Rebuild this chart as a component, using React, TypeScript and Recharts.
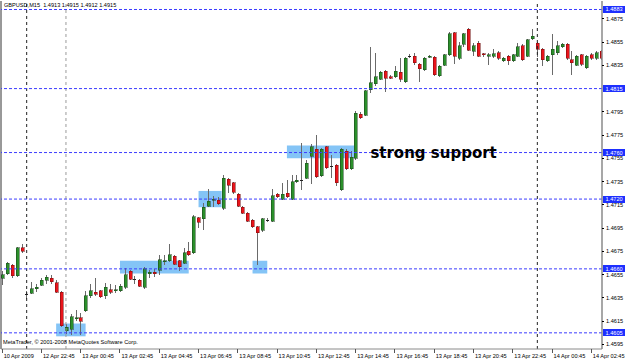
import { ComposedChart, Bar, XAxis, YAxis, ReferenceLine, ReferenceArea, ReferenceDot } from 'recharts';

// GBPUSD M15 candles (oldest first)
const opens = [
  1.4652, 1.4656, 1.4663, 1.4654, 1.4678, 1.4638, 1.4639, 1.4643, 1.4646, 1.4650,
  1.4652, 1.4648, 1.4640, 1.4607, 1.4608, 1.4617, 1.4618, 1.4624, 1.4637, 1.4640,
  1.4641, 1.4637, 1.4642, 1.4641, 1.4641, 1.4644, 1.4658, 1.4651, 1.4650, 1.4644,
  1.4656, 1.4657, 1.4659, 1.4666, 1.4667, 1.4671, 1.4667, 1.4665, 1.4675, 1.4674,
  1.4704, 1.4703, 1.4714, 1.4719, 1.4719, 1.4712, 1.4737, 1.4734, 1.4724, 1.4713,
  1.4708, 1.4702, 1.4696, 1.4693, 1.4702, 1.4701, 1.4724, 1.4720, 1.4725, 1.4720,
  1.4735, 1.4736, 1.4738, 1.4757, 1.4763, 1.4740, 1.4765, 1.4748, 1.4749, 1.4728,
  1.4761, 1.4746, 1.4755, 1.4793, 1.4792, 1.4814, 1.4819, 1.4823, 1.4830, 1.4825,
  1.4825, 1.4829, 1.4821, 1.4843, 1.4843, 1.4836, 1.4831, 1.4842, 1.4842, 1.4826,
  1.4835, 1.4844, 1.4863, 1.4841, 1.4853, 1.4866, 1.4847, 1.4854, 1.4845, 1.4843,
  1.4843, 1.4846, 1.4839, 1.4843, 1.4839, 1.4843, 1.4852, 1.4843, 1.4858, 1.4854,
  1.4849, 1.4839, 1.4844, 1.4846, 1.4851, 1.4853, 1.4840, 1.4835, 1.4844, 1.4833,
  1.4844, 1.4841, 1.4847,
];
const highs = [
  1.4658, 1.4666, 1.4664, 1.4679, 1.4681, 1.4641, 1.4649, 1.4647, 1.4652, 1.4655,
  1.4655, 1.4650, 1.4641, 1.4613, 1.4621, 1.4625, 1.4622, 1.4641, 1.4647, 1.4652,
  1.4642, 1.4648, 1.4647, 1.4646, 1.4647, 1.4661, 1.4659, 1.4654, 1.4651, 1.4662,
  1.4659, 1.4660, 1.4672, 1.4672, 1.4681, 1.4672, 1.4668, 1.4678, 1.4683, 1.4706,
  1.4705, 1.4717, 1.4729, 1.4723, 1.4722, 1.4741, 1.4738, 1.4735, 1.4725, 1.4714,
  1.4709, 1.4703, 1.4697, 1.4704, 1.4704, 1.4729, 1.4725, 1.4734, 1.4736, 1.4741,
  1.4741, 1.4768, 1.4754, 1.4767, 1.4775, 1.4764, 1.4766, 1.4758, 1.4750, 1.4764,
  1.4763, 1.4761, 1.4796, 1.4795, 1.4814, 1.4851, 1.4846, 1.4830, 1.4831, 1.4827,
  1.4834, 1.4841, 1.4842, 1.4845, 1.4846, 1.4837, 1.4842, 1.4844, 1.4843, 1.4835,
  1.4845, 1.4864, 1.4864, 1.4855, 1.4863, 1.4867, 1.4854, 1.4856, 1.4846, 1.4846,
  1.4849, 1.4847, 1.4842, 1.4844, 1.4845, 1.4854, 1.4853, 1.4858, 1.4866, 1.4855,
  1.4850, 1.4844, 1.4862, 1.4856, 1.4854, 1.4854, 1.4847, 1.4844, 1.4845, 1.4844,
  1.4846, 1.4847, 1.4848,
];
const lows = [
  1.4646, 1.4655, 1.4652, 1.4653, 1.4674, 1.4634, 1.4638, 1.4640, 1.4645, 1.4647,
  1.4647, 1.4639, 1.4610, 1.4604, 1.4603, 1.4615, 1.4603, 1.4623, 1.4635, 1.4637,
  1.4635, 1.4634, 1.4638, 1.4639, 1.4640, 1.4643, 1.4650, 1.4647, 1.4644, 1.4643,
  1.4652, 1.4653, 1.4655, 1.4663, 1.4666, 1.4663, 1.4658, 1.4664, 1.4671, 1.4673,
  1.4695, 1.4693, 1.4713, 1.4713, 1.4715, 1.4711, 1.4725, 1.4724, 1.4713, 1.4707,
  1.4700, 1.4695, 1.4663, 1.4692, 1.4700, 1.4700, 1.4721, 1.4719, 1.4721, 1.4719,
  1.4734, 1.4728, 1.4737, 1.4733, 1.4738, 1.4739, 1.4746, 1.4738, 1.4731, 1.4727,
  1.4745, 1.4745, 1.4754, 1.4789, 1.4791, 1.4811, 1.4817, 1.4822, 1.4812, 1.4823,
  1.4824, 1.4821, 1.4820, 1.4841, 1.4835, 1.4821, 1.4830, 1.4841, 1.4826, 1.4825,
  1.4834, 1.4843, 1.4836, 1.4840, 1.4851, 1.4847, 1.4843, 1.4842, 1.4842, 1.4835,
  1.4841, 1.4840, 1.4838, 1.4835, 1.4838, 1.4842, 1.4839, 1.4842, 1.4857, 1.4842,
  1.4834, 1.4838, 1.4827, 1.4844, 1.4850, 1.4840, 1.4827, 1.4834, 1.4834, 1.4832,
  1.4840, 1.4840, 1.4840,
];
const closes = [
  1.4655, 1.4665, 1.4654, 1.4678, 1.4675, 1.4638, 1.4643, 1.4644, 1.4650, 1.4653,
  1.4649, 1.4640, 1.4611, 1.4610, 1.4619, 1.4618, 1.4615, 1.4637, 1.4641, 1.4638,
  1.4636, 1.4644, 1.4640, 1.4642, 1.4645, 1.4655, 1.4651, 1.4651, 1.4645, 1.4660,
  1.4657, 1.4656, 1.4668, 1.4667, 1.4672, 1.4664, 1.4662, 1.4674, 1.4672, 1.4705,
  1.4700, 1.4713, 1.4718, 1.4720, 1.4716, 1.4738, 1.4732, 1.4726, 1.4714, 1.4708,
  1.4701, 1.4696, 1.4691, 1.4703, 1.4702, 1.4723, 1.4722, 1.4724, 1.4722, 1.4735,
  1.4736, 1.4736, 1.4751, 1.4765, 1.4739, 1.4763, 1.4747, 1.4748, 1.4734, 1.4763,
  1.4746, 1.4756, 1.4794, 1.4790, 1.4813, 1.4820, 1.4825, 1.4829, 1.4824, 1.4824,
  1.4830, 1.4823, 1.4841, 1.4843, 1.4837, 1.4832, 1.4841, 1.4843, 1.4827, 1.4834,
  1.4844, 1.4862, 1.4843, 1.4852, 1.4862, 1.4848, 1.4852, 1.4843, 1.4844, 1.4844,
  1.4845, 1.4841, 1.4841, 1.4839, 1.4844, 1.4851, 1.4840, 1.4857, 1.4860, 1.4849,
  1.4840, 1.4843, 1.4849, 1.4852, 1.4853, 1.4841, 1.4837, 1.4843, 1.4836, 1.4843,
  1.4841, 1.4846, 1.4841,
];

const timeLabels = [
  '10 Apr 2009', '12 Apr 22:45', '13 Apr 00:45', '13 Apr 02:45', '13 Apr 04:45', '13 Apr 06:45',
  '13 Apr 08:45', '13 Apr 10:45', '13 Apr 12:45', '13 Apr 14:45', '13 Apr 16:45', '13 Apr 18:45',
  '13 Apr 20:45', '13 Apr 22:45', '14 Apr 00:45', '14 Apr 02:45',
];
const BARS_PER_LABEL = 8;

const priceTicks = [
  1.4595, 1.4615, 1.4635, 1.4655, 1.4675, 1.4695, 1.4715, 1.4735,
  1.4755, 1.4775, 1.4795, 1.4835, 1.4855, 1.4875,
];

// horizontal levels drawn by hand on the chart
const levels = [1.4883, 1.4815, 1.4760, 1.4720, 1.4660, 1.4605];

// blue highlight boxes: bar index range and price range
const zoneFrom = [11, 24, 40, 51, 58];
const zoneTo = [17, 38, 44.7, 54, 71.7];
const zoneHigh = [1.4613, 1.4667, 1.4727, 1.4667, 1.4766];
const zoneLow = [1.4602, 1.4656, 1.4713, 1.4656, 1.4755];

// period separators (bar index)
const separators = [5, 13, 109];
const separatorColors = ['#222', '#9a9a9a', '#222'];

const data = opens.map((o, i) => ({
  i,
  o,
  h: highs[i],
  l: lows[i],
  c: closes[i],
  range: [lows[i], highs[i]],
}));

const tickIdx = timeLabels.map((_, k) => k * BARS_PER_LABEL);

const small = { fontFamily: '"Liberation Sans", Arial, sans-serif', fontSize: 5.6 };

function Candle(props: any) {
  const { x, y, width, height, payload } = props;
  if (x == null || y == null || !payload) return null;
  const { o, h, l, c } = payload;
  const k = height / (h - l);
  const cx = Math.round(x + width / 2) + 0.5;
  const top = y + (h - Math.max(o, c)) * k;
  const bot = y + (h - Math.min(o, c)) * k;
  const up = c > o;
  return (
    <g shapeRendering="crispEdges">
      <line x1={cx} x2={cx} y1={y} y2={y + height} stroke="#6a6a6a" strokeWidth={1} />
      {o === c ? (
        <line x1={cx - 1.5} x2={cx + 1.5} y1={top} y2={top} stroke="#222" strokeWidth={1} />
      ) : (
        <rect
          x={cx - 1.5}
          y={top}
          width={3}
          height={Math.max(1, bot - top)}
          fill={up ? '#2b8f2b' : '#e8141b'}
          stroke={up ? '#173f17' : '#6e0a0a'}
          strokeWidth={0.5}
        />
      )}
    </g>
  );
}

function TimeTick(props: any) {
  const { x, y, payload } = props;
  const label = timeLabels[Math.round(payload.value / BARS_PER_LABEL)];
  return (
    <g>
      <line x1={x} x2={x} y1={y} y2={y + 4} stroke="#555" shapeRendering="crispEdges" />
      <text x={x + 1.5} y={y + 8.5} fill="#000" {...small}>{label}</text>
    </g>
  );
}

function PriceTick(props: any) {
  const { x, y, payload } = props;
  return (
    <g>
      <line x1={x} x2={x + 2} y1={y} y2={y} stroke="#000" shapeRendering="crispEdges" />
      <text x={x + 4} y={y + 2} fill="#000" {...small}>{payload.value.toFixed(4)}</text>
    </g>
  );
}

function LevelTag(props: any) {
  const { viewBox, value } = props;
  if (!viewBox) return null;
  const x = viewBox.x + viewBox.width + 1;
  const y = viewBox.y;
  return (
    <g>
      <rect x={x} y={y - 3.5} width={22} height={7} fill="#1d2fff" shapeRendering="crispEdges" />
      <text x={x + 2.5} y={y + 2} fill="#fff" {...small}>{value.toFixed(4)}</text>
    </g>
  );
}

export default function App() {
  return (
    <div style={{ position: 'absolute', left: 0, top: 0, width: 625, height: 361, background: '#fff' }}>
      <ComposedChart width={625} height={361} data={data} margin={{ top: 1, right: 0, left: 1, bottom: 0 }}>
        <XAxis
          dataKey="i"
          type="number"
          domain={[-0.23, 122.17]}
          allowDataOverflow
          ticks={tickIdx}
          interval={0}
          tick={<TimeTick />}
          tickLine={false}
          tickSize={0}
          tickMargin={0}
          axisLine={{ stroke: '#8a8a8a' }}
          height={12}
        />
        <YAxis
          orientation="right"
          type="number"
          domain={[1.45911, 1.48903]}
          allowDataOverflow
          ticks={priceTicks}
          interval={0}
          tick={<PriceTick />}
          tickLine={false}
          tickSize={0}
          tickMargin={0}
          axisLine={{ stroke: '#8a8a8a', strokeWidth: 1.5 }}
          width={23}
        />
        <ReferenceLine x={-0.23} stroke="#333" />
        {zoneFrom.map((x1, k) => (
          <ReferenceArea
            key={`z${k}`}
            x1={x1}
            x2={zoneTo[k]}
            y1={zoneLow[k]}
            y2={zoneHigh[k]}
            fill="#84c4f6"
            fillOpacity={1}
            stroke="none"
          />
        ))}
        {separators.map((s, k) => (
          <ReferenceLine key={`s${k}`} x={s} stroke={separatorColors[k]} strokeDasharray="3 3" />
        ))}
        {levels.map((v) => (
          <ReferenceLine
            key={`l${v}`}
            y={v}
            stroke="#3c3cff"
            strokeDasharray="3 2"
            label={<LevelTag value={v} />}
          />
        ))}
        <Bar dataKey="range" shape={<Candle />} barSize={5} isAnimationActive={false} />
        <ReferenceDot
          x={75}
          y={1.4760}
          r={0}
          shape={(p: any) => (
            <text
              x={p.cx}
              y={p.cy + 5}
              fill="#000"
              fontFamily='"DejaVu Sans", Verdana, sans-serif'
              fontWeight="bold"
              fontSize={15}
            >
              strong support
            </text>
          )}
        />
      </ComposedChart>
      <div style={{ position: 'absolute', left: 4, top: 3, lineHeight: 1, whiteSpace: 'pre', ...small }}>
        GBPUSD,M15  1.4913 1.4915 1.4912 1.4915
      </div>
      <div style={{ position: 'absolute', left: 3, top: 340, lineHeight: 1, whiteSpace: 'pre', ...small }}>
        MetaTrader, © 2001-2008 MetaQuotes Software Corp.
      </div>
    </div>
  );
}
